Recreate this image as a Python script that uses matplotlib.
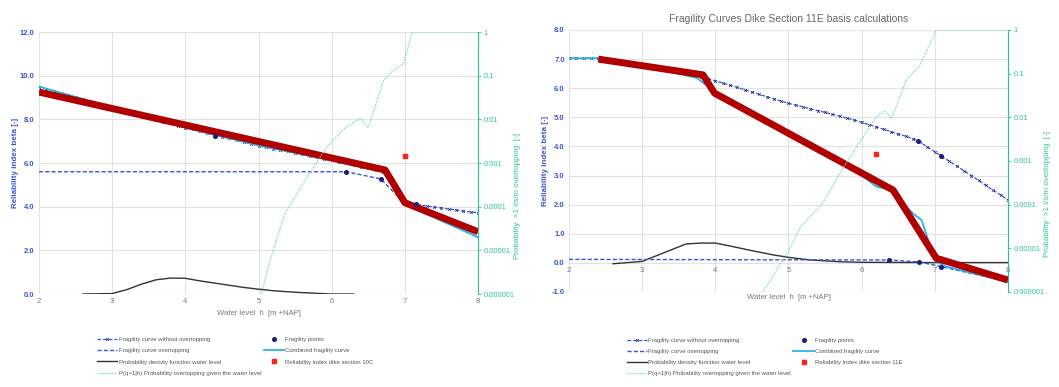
import matplotlib
matplotlib.use("Agg")
import matplotlib.pyplot as plt

plt.rcParams["font.family"] = ["Liberation Sans", "DejaVu Sans"]

# ---------------- data: section 10C (left) ----------------
L_woo_x = [2.0, 2.1, 2.2, 2.3, 2.4, 2.5, 2.6, 2.7, 2.8, 2.9, 3.0, 3.1, 3.2, 3.3, 3.4, 3.5,
           3.6, 3.7, 3.8, 3.9, 4.0, 4.1, 4.2, 4.3, 4.4, 4.5, 4.6, 4.7, 4.8, 4.9, 5.0, 5.1,
           5.2, 5.3, 5.4, 5.5, 5.6, 5.7, 5.8, 5.9, 6.0, 6.1, 6.2, 6.3, 6.4, 6.5, 6.6, 6.7,
           7.0, 7.1, 7.2, 7.3, 7.4, 7.5, 7.6, 7.7, 7.8, 7.9, 8.0]
L_woo_y = [9.50, 9.40, 9.31, 9.21, 9.12, 9.02, 8.93, 8.83, 8.74, 8.64, 8.55, 8.46, 8.36, 8.27,
           8.18, 8.09, 7.99, 7.90, 7.81, 7.71, 7.62, 7.54, 7.46, 7.37, 7.29, 7.21, 7.13, 7.05,
           6.96, 6.88, 6.80, 6.73, 6.66, 6.60, 6.53, 6.46, 6.39, 6.32, 6.26, 6.19, 6.12, 6.05,
           5.98, 5.90, 5.83, 5.75, 5.67, 5.60,
           4.15, 4.11, 4.07, 4.03, 3.98, 3.94, 3.89, 3.85, 3.80, 3.76, 3.72]
L_ot_x = [2.0, 6.2, 6.67, 7.0, 8.0]
L_ot_y = [5.6, 5.6, 5.27, 4.15, 2.6]
L_pts_x = [4.4, 6.2, 6.67, 7.15]
L_pts_y = [7.25, 5.6, 5.27, 4.12]
L_comb_x = [2.0, 3.0, 4.0, 5.0, 6.0, 6.7, 7.0, 8.0]
L_comb_y = [9.5, 8.55, 7.62, 6.8, 6.12, 5.6, 4.1, 2.6]
L_red_x = [2.0, 6.73, 7.0, 8.0]
L_red_y = [9.25, 5.68, 4.18, 2.85]
L_sec_x = [7.0]
L_sec_y = [6.3]
L_pdf_x = [2.6, 3.0, 3.2, 3.4, 3.6, 3.8, 4.0, 4.2, 4.4, 4.6, 4.8, 5.0, 5.2, 5.5, 5.8, 6.0, 6.3]
L_pdf_y = [0.0, 0.02, 0.2, 0.45, 0.65, 0.73, 0.72, 0.6, 0.5, 0.4, 0.3, 0.22, 0.15, 0.08, 0.03, 0.0, 0.0]
L_pq_x = [5.04, 5.16, 5.36, 5.61, 5.93, 6.2, 6.39, 6.5, 6.71, 6.82, 6.98, 7.1, 8.0]
L_pq_y = [1e-6, 6e-6, 7e-5, 3.4e-4, 2.3e-3, 6.8e-3, 1.05e-2, 6.5e-3, 8e-2, 0.12, 0.19, 1.0, 1.0]

# ---------------- data: section 11E (right) ----------------
R_woo_x = [2.0, 2.1, 2.2, 2.3, 2.4, 2.5, 2.6, 2.7, 2.8, 2.9, 3.0, 3.1, 3.2, 3.3, 3.4, 3.5,
           3.6, 3.7, 3.8, 3.9, 4.0, 4.1, 4.2, 4.3, 4.4, 4.5, 4.6, 4.7, 4.8, 4.9, 5.0, 5.1,
           5.2, 5.3, 5.4, 5.5, 5.6, 5.7, 5.8, 5.9, 6.0, 6.1, 6.2, 6.3, 6.4, 6.5, 6.6, 6.7,
           6.8, 6.9, 7.0, 7.1, 7.2, 7.3, 7.4, 7.5, 7.6, 7.7, 7.8, 7.9, 8.0]
R_woo_y = [7.03, 7.03, 7.03, 7.03, 7.03, 6.99, 6.96, 6.92, 6.88, 6.84, 6.80, 6.76, 6.72, 6.68,
           6.64, 6.60, 6.55, 6.48, 6.40, 6.33, 6.26, 6.18, 6.10, 6.03, 5.95, 5.87, 5.79, 5.71,
           5.63, 5.56, 5.48, 5.42, 5.36, 5.29, 5.23, 5.17, 5.10, 5.04, 4.97, 4.91, 4.83, 4.75,
           4.67, 4.59, 4.51, 4.43, 4.35, 4.27, 4.15, 3.98, 3.82, 3.65, 3.49, 3.33, 3.16, 3.00,
           2.83, 2.66, 2.49, 2.33, 2.16]
R_ot_x = [2.0, 6.38, 6.79, 7.09, 8.0]
R_ot_y = [0.12, 0.1, 0.03, -0.13, -0.65]
R_pts_x = [6.38, 6.79, 7.09, 6.77, 7.09]
R_pts_y = [0.1, 0.03, -0.13, 4.2, 3.67]
R_comb_x = [2.0, 2.4, 3.0, 3.75, 3.95, 5.0, 5.9, 6.2, 6.4, 6.7, 6.82, 6.98, 7.05, 7.16, 8.0]
R_comb_y = [7.03, 7.03, 6.78, 6.35, 5.95, 4.5, 3.2, 2.62, 2.5, 1.7, 1.47, 0.25, 0.0, -0.13, -0.65]
R_red_x = [2.4, 3.83, 3.99, 6.43, 7.02, 8.0]
R_red_y = [7.0, 6.46, 5.83, 2.5, 0.16, -0.59]
R_sec_x = [6.2]
R_sec_y = [3.73]
R_pdf_x = [2.6, 3.0, 3.3, 3.6, 3.8, 4.0, 4.2, 4.5, 4.8, 5.0, 5.3, 5.7, 6.0, 7.0, 8.0]
R_pdf_y = [-0.03, 0.05, 0.35, 0.65, 0.68, 0.68, 0.58, 0.42, 0.27, 0.19, 0.1, 0.04, 0.02, 0.01, 0.01]
R_pq_x = [4.65, 5.02, 5.16, 5.47, 5.7, 5.93, 6.2, 6.32, 6.41, 6.61, 6.8, 7.02, 8.0]
R_pq_y = [1e-6, 1e-5, 3e-5, 1.1e-4, 5.2e-4, 2.1e-3, 1.03e-2, 1.4e-2, 9.4e-3, 7.1e-2, 0.156, 1.0, 1.0]

LOG_TICKS = [1e-6, 1e-5, 1e-4, 1e-3, 1e-2, 1e-1, 1]
LOG_LABELS = ["0.000001", "0.00001", "0.0001", "0.001", "0.01", "0.1", "1"]

BLUE = "#3a55d8"
NAVY = "#1c1f7a"
LIGHT = "#2ab4e6"
RED = "#b00000"
TEAL = "#2fc39b"
GREEN_DOT = "#6fd8bb"
GREY = "#777777"


def panel(ax, d, ylim, yticks, section, legend_xy, xaxis_at_zero):
    woo_x, woo_y, ot_x, ot_y, pts_x, pts_y, comb_x, comb_y, red_x, red_y, \
        sec_x, sec_y, pdf_x, pdf_y, pq_x, pq_y = d
    ax.set_xlim(2, 8)
    ax.set_ylim(*ylim)
    ax.set_yticks(yticks)
    ax.set_yticklabels([f"{v:.1f}" for v in yticks])
    ax.set_xticks(range(2, 9))
    ax.grid(True, color="#e2e2e2", lw=0.8)
    for s in ax.spines.values():
        s.set_visible(False)
    ax.tick_params(axis="y", length=0, labelsize=5.5, labelcolor=BLUE, pad=3)
    ax.tick_params(axis="x", length=0, labelsize=5.5, labelcolor=GREY, pad=3)
    for t in ax.get_yticklabels():
        t.set_fontweight("bold")
    if xaxis_at_zero:
        ax.spines["bottom"].set_position(("data", 0))

    h_pdf, = ax.plot(pdf_x, pdf_y, color="#333333", lw=1.0,
                     label="Probability density function water level")
    h_ot, = ax.plot(ot_x, ot_y, color=BLUE, lw=1.0, ls=(0, (3, 1.5)),
                    label="Fragility curve overtopping")
    h_woo, = ax.plot(woo_x, woo_y, color=BLUE, lw=0.9, ls=(0, (3, 1.5)), marker="x",
                     ms=2.0, mew=0.5, mec=NAVY, label="Fragility curve without overtopping")
    h_comb, = ax.plot(comb_x, comb_y, color=LIGHT, lw=1.3, label="Combined fragility curve")
    ax.plot(red_x, red_y, color=RED, lw=5, solid_capstyle="butt", zorder=5)
    h_pts, = ax.plot(pts_x, pts_y, ls="none", marker="o", ms=2.6, color=NAVY,
                     zorder=6, label="Fragility points")
    h_sec, = ax.plot(sec_x, sec_y, ls="none", marker="s", ms=3, color="#ff2020",
                     zorder=6, label=f"Reliability index dike section {section}")

    ax.set_ylabel("Reliability index beta [-]", color=BLUE, fontsize=5.8, fontweight="bold")
    ax.yaxis.set_label_coords(-0.046, 0.5)
    ax.set_xlabel("Water level  h  [m +NAP]", color=GREY, fontsize=5.5)

    ax2 = ax.twinx()
    ax2.set_yscale("log")
    ax2.set_ylim(1e-6, 1)
    ax2.set_yticks(LOG_TICKS)
    ax2.set_yticklabels(LOG_LABELS)
    ax2.minorticks_off()
    for s in ax2.spines.values():
        s.set_visible(False)
    ax2.spines["right"].set_visible(True)
    ax2.spines["right"].set_color(TEAL)
    ax2.spines["right"].set_linewidth(0.8)
    ax2.tick_params(axis="y", length=2, width=0.6, color=TEAL, labelsize=5.5,
                    labelcolor=TEAL, pad=2)
    h_pq, = ax2.plot(pq_x, pq_y, color=GREEN_DOT, lw=0.9, ls=(0, (1, 1)),
                     label="P(q>1|h) Probability overtopping given the water level")
    ax2.set_ylabel("Probability  >1 l/s/m overtopping  [-]", color=TEAL, fontsize=5.8)
    ax2.yaxis.set_label_coords(1.082, 0.375)

    handles = [h_woo, h_ot, h_pdf, h_pq, h_pts, h_comb, h_sec]
    fig.legend(handles=handles, labels=[h.get_label() for h in handles], ncol=2,
               loc="upper left", bbox_to_anchor=legend_xy, frameon=False, fontsize=4.3,
               handlelength=3.4, handletextpad=0.2, columnspacing=0.4,
               labelspacing=1.0, borderpad=0, borderaxespad=0, labelcolor="#555555")
    return ax2


fig = plt.figure(figsize=(10.59, 3.87), dpi=100)
axL = fig.add_axes([0.0368, 0.2403, 0.4146, 0.677])
axR = fig.add_axes([0.5373, 0.2455, 0.4145, 0.677])

panel(axL, (L_woo_x, L_woo_y, L_ot_x, L_ot_y, L_pts_x, L_pts_y, L_comb_x, L_comb_y,
            L_red_x, L_red_y, L_sec_x, L_sec_y, L_pdf_x, L_pdf_y, L_pq_x, L_pq_y),
      (0, 12), [0, 2, 4, 6, 8, 10, 12], "10C", (0.0916, 0.129), False)
axL.xaxis.set_label_coords(0.5, -0.06)

panel(axR, (R_woo_x, R_woo_y, R_ot_x, R_ot_y, R_pts_x, R_pts_y, R_comb_x, R_comb_y,
            R_red_x, R_red_y, R_sec_x, R_sec_y, R_pdf_x, R_pdf_y, R_pq_x, R_pq_y),
      (-1, 8), list(range(-1, 9)), "11E", (0.592, 0.127), True)
axR.xaxis.set_label_coords(0.5, -0.008)
axR.set_title("Fragility Curves Dike Section 11E basis calculations", fontsize=7.5,
              color="#666666", pad=6)

fig.savefig("out.png", dpi=100)
